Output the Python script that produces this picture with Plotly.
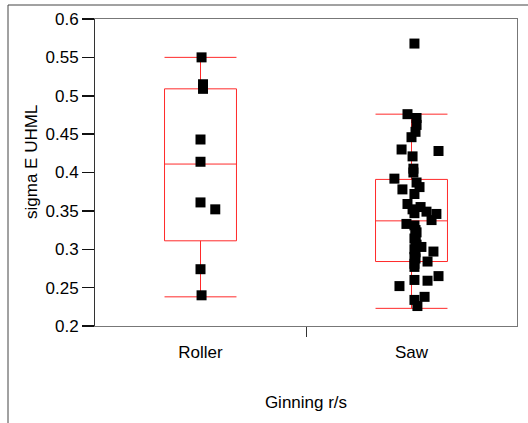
import plotly.graph_objects as go

# ---- data ----
categories = ["Roller", "Saw"]
box_q1 = [0.311, 0.284]
box_median = [0.411, 0.337]
box_q3 = [0.509, 0.391]
box_lower = [0.238, 0.223]
box_upper = [0.550, 0.476]

roller_values = [0.550, 0.515, 0.509, 0.443, 0.414, 0.361, 0.352, 0.274, 0.240]
roller_jitter = [0.005, 0.012, 0.012, 0.0, 0.0, 0.0, 0.07, 0.0, 0.005]

saw_values = [0.568, 0.476, 0.471, 0.462, 0.453, 0.446, 0.430, 0.428, 0.421, 0.405,
              0.400, 0.392, 0.387, 0.381, 0.378, 0.372, 0.359, 0.355, 0.352, 0.349,
              0.347, 0.346, 0.338, 0.333, 0.331, 0.325, 0.322, 0.318, 0.314, 0.310,
              0.306, 0.303, 0.300, 0.297, 0.296, 0.290, 0.288, 0.284, 0.281, 0.277,
              0.265, 0.260, 0.259, 0.252, 0.238, 0.234, 0.226]
saw_jitter = [0.014, -0.019, 0.024, 0.024, 0.019, 0.0, -0.047, 0.128, 0.005, 0.009,
              0.009, -0.081, 0.024, 0.038, -0.043, 0.014, -0.019, 0.043, 0.005, 0.071,
              0.014, 0.118, 0.095, -0.024, 0.014, 0.019, 0.024, 0.019, 0.014, 0.019,
              0.024, 0.047, 0.014, 0.104, 0.019, 0.014, 0.019, 0.076, 0.014, 0.014,
              0.128, 0.014, 0.076, -0.057, 0.062, 0.014, 0.028]

y_ticks = [0.2, 0.25, 0.3, 0.35, 0.4, 0.45, 0.5, 0.55, 0.6]
y_ticktext = ["0.2", "0.25", "0.3", "0.35", "0.4", "0.45", "0.5", "0.55", "0.6"]
x_range = [-0.5, 1.5]
y_range = [0.2, 0.6]

FONT = "Liberation Sans, Arial, sans-serif"
L, R, T, B = 95, 11, 19, 97
PW, PH = 528 - L - R, 423 - T - B

fig = go.Figure()

# invisible helper so the overlay axes (divider tick, right frame line) render
fig.add_trace(go.Scatter(
    x=[0.5], y=[0.4], xaxis="x2", yaxis="y2", mode="markers",
    marker=dict(opacity=0), showlegend=False, hoverinfo="skip",
))

for i in range(len(categories)):
    fig.add_trace(go.Box(
        x=[i], q1=[box_q1[i]], median=[box_median[i]], q3=[box_q3[i]],
        lowerfence=[box_lower[i]], upperfence=[box_upper[i]],
        width=0.341, whiskerwidth=1, boxpoints=False,
        line=dict(color="#ff2a2a", width=1),
        fillcolor="rgba(255,255,255,0)", showlegend=False, hoverinfo="skip",
    ))

px = [0 + j for j in roller_jitter] + [1 + j for j in saw_jitter]
py = roller_values + saw_values
fig.add_trace(go.Scatter(
    x=px, y=py, mode="markers",
    marker=dict(symbol="square", size=10, color="black", line=dict(width=0)),
    showlegend=False, hoverinfo="skip",
))

fig.update_layout(
    width=528, height=423,
    margin=dict(l=L, r=R, t=T, b=B),
    paper_bgcolor="white", plot_bgcolor="white",
    font=dict(family=FONT, size=17, color="black"),
    hovermode=False, boxmode="overlay",
    xaxis=dict(
        range=x_range, tickvals=[0, 1], ticktext=categories, ticks="",
        ticklabelstandoff=11, automargin=False,
        showline=True, linecolor="#777", linewidth=1, mirror=True,
        showgrid=False, zeroline=False,
        title=dict(text="Ginning r/s", standoff=34, font=dict(size=17)),
    ),
    xaxis2=dict(
        range=x_range, overlaying="x", side="bottom", anchor="y",
        tickvals=[0.5], showticklabels=False,
        ticks="outside", ticklen=10, tickcolor="#333", tickwidth=1,
        showline=False, showgrid=False, zeroline=False, automargin=False,
    ),
    yaxis=dict(
        range=y_range, tickvals=y_ticks, ticktext=y_ticktext,
        ticks="outside", ticklen=12, tickcolor="#111", tickwidth=1.5,
        showline=True, linecolor="#333", linewidth=1, mirror=False,
        showgrid=False, zeroline=False, automargin=False,
    ),
    yaxis2=dict(
        range=y_range, overlaying="y", side="right", anchor="x",
        showline=True, linecolor="#777", linewidth=1,
        showticklabels=False, ticks="", showgrid=False, zeroline=False,
        automargin=False,
    ),
    annotations=[dict(
        text="sigma E UHML", textangle=-90, showarrow=False,
        xref="paper", yref="paper", xanchor="center", yanchor="middle",
        x=(31 - L) / PW, y=(PH + T - 162) / PH,
        font=dict(size=17, family=FONT, color="black"),
    )],
    shapes=[dict(
        type="rect", xref="paper", yref="paper",
        x0=(8 - L) / PW, x1=1.1, y0=-0.4, y1=1 + (T - 5) / PH,
        line=dict(color="#444", width=1), fillcolor="rgba(0,0,0,0)",
        layer="below",
    )],
)

fig.write_html("out.html", config={"staticPlot": True, "displayModeBar": False},
               post_script="document.body.style.margin='0';")
